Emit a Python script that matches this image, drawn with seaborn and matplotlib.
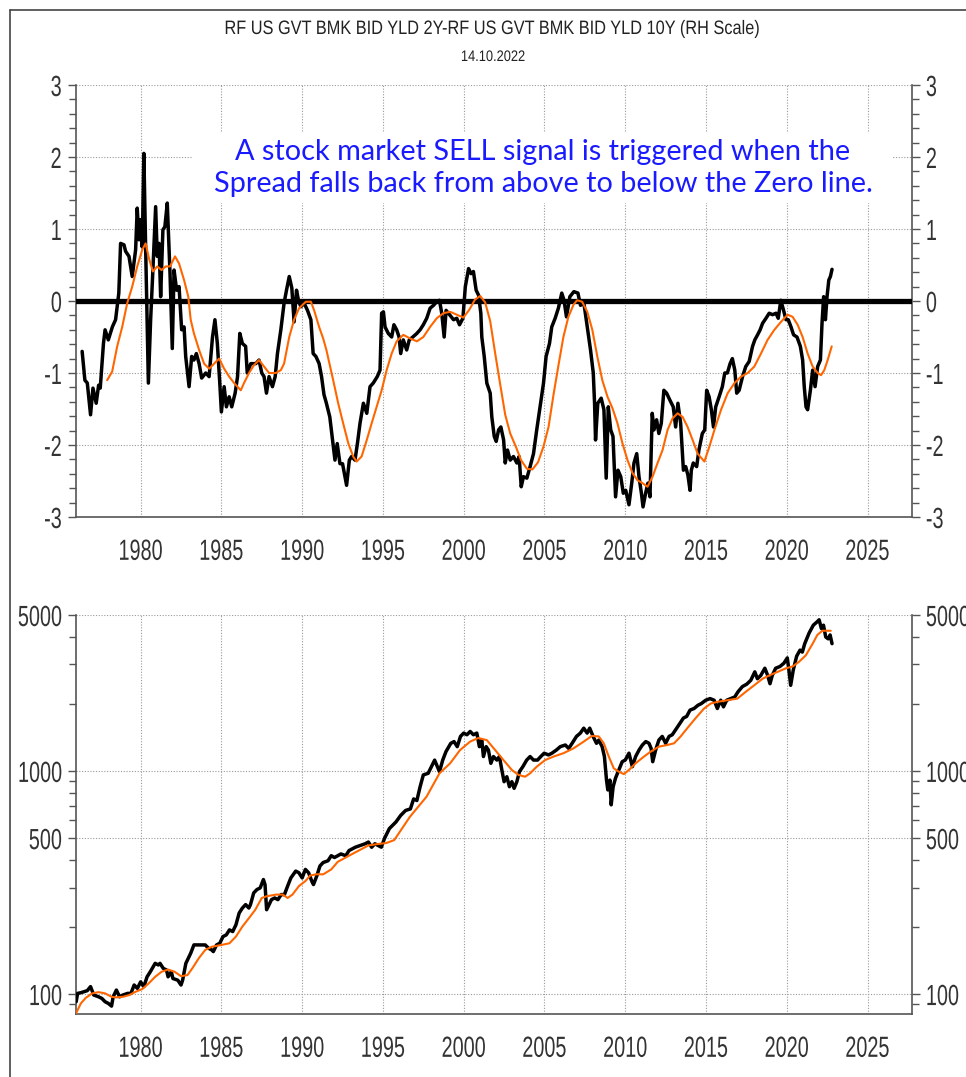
import matplotlib
matplotlib.use("Agg")
import numpy as np
import pandas as pd
import seaborn as sns
import matplotlib.pyplot as plt
from matplotlib import font_manager
from matplotlib.ticker import MultipleLocator, FixedLocator, NullFormatter, FuncFormatter
from matplotlib.patches import Rectangle
from matplotlib.lines import Line2D
from matplotlib.patheffects import AbstractPathEffect
from matplotlib.transforms import Affine2D

# ---------------------------------------------------------------- data
# 2Y minus 10Y US Treasury yield spread (percentage points)
spread_year = [
    1976.38, 1976.55, 1976.70, 1976.90, 1977.05, 1977.25, 1977.40, 1977.50, 1977.70, 1977.80,
    1978.00, 1978.25, 1978.45, 1978.65, 1978.76, 1978.97, 1979.07, 1979.28, 1979.48, 1979.69,
    1979.79, 1979.90, 1980.00, 1980.10, 1980.20, 1980.31, 1980.48, 1980.62, 1980.76, 1980.93,
    1981.03, 1981.14, 1981.24, 1981.38, 1981.50, 1981.65, 1981.82, 1981.96, 1982.07, 1982.23,
    1982.38, 1982.54, 1982.69, 1982.79, 1983.00, 1983.16, 1983.30, 1983.45, 1983.62, 1983.78,
    1984.03, 1984.24, 1984.45, 1984.60, 1984.75, 1984.90, 1985.00, 1985.17, 1985.31, 1985.48,
    1985.64, 1985.85, 1986.00, 1986.14, 1986.30, 1986.50, 1986.60, 1986.82, 1987.13, 1987.33,
    1987.50, 1987.64, 1987.79, 1987.95, 1988.16, 1988.33, 1988.47, 1988.68, 1988.88, 1989.03,
    1989.20, 1989.36, 1989.50, 1989.65, 1989.77, 1989.92, 1990.12, 1990.33, 1990.54, 1990.68,
    1990.85, 1991.05, 1991.20, 1991.35, 1991.50, 1991.71, 1991.88, 1992.03, 1992.17, 1992.34,
    1992.50, 1992.65, 1992.75, 1992.92, 1993.06, 1993.27, 1993.42, 1993.58, 1993.79, 1994.00,
    1994.20, 1994.40, 1994.65, 1994.82, 1994.92, 1995.03, 1995.13, 1995.33, 1995.54, 1995.68,
    1995.85, 1996.00, 1996.10, 1996.26, 1996.47, 1996.63, 1996.85, 1997.10, 1997.30, 1997.50,
    1997.71, 1997.92, 1998.13, 1998.33, 1998.50, 1998.64, 1998.79, 1998.91, 1999.12, 1999.37,
    1999.57, 1999.74, 1999.95, 2000.10, 2000.30, 2000.45, 2000.60, 2000.77, 2000.92, 2001.06,
    2001.12, 2001.27, 2001.43, 2001.64, 2001.74, 2001.89, 2002.01, 2002.16, 2002.30, 2002.47,
    2002.57, 2002.71, 2002.88, 2003.08, 2003.29, 2003.43, 2003.56, 2003.70, 2003.91, 2004.11,
    2004.32, 2004.52, 2004.73, 2004.94, 2005.10, 2005.31, 2005.45, 2005.66, 2005.86, 2006.07,
    2006.21, 2006.36, 2006.57, 2006.82, 2007.07, 2007.23, 2007.44, 2007.65, 2007.85, 2008.02,
    2008.10, 2008.16, 2008.30, 2008.51, 2008.68, 2008.82, 2008.95, 2009.10, 2009.24, 2009.40,
    2009.55, 2009.72, 2009.88, 2010.03, 2010.23, 2010.40, 2010.54, 2010.71, 2010.85, 2011.00,
    2011.10, 2011.26, 2011.40, 2011.53, 2011.67, 2011.78, 2011.94, 2012.08, 2012.23, 2012.39,
    2012.56, 2012.77, 2012.97, 2013.12, 2013.26, 2013.43, 2013.60, 2013.74, 2013.88, 2014.01,
    2014.09, 2014.21, 2014.42, 2014.56, 2014.77, 2014.92, 2015.04, 2015.19, 2015.33, 2015.46,
    2015.60, 2015.81, 2016.01, 2016.16, 2016.32, 2016.49, 2016.63, 2016.78, 2016.90, 2017.05,
    2017.26, 2017.46, 2017.67, 2017.88, 2018.02, 2018.19, 2018.35, 2018.50, 2018.71, 2018.91,
    2019.12, 2019.33, 2019.47, 2019.63, 2019.80, 2019.95, 2020.09, 2020.26, 2020.42, 2020.63,
    2020.84, 2020.98, 2021.08, 2021.19, 2021.29, 2021.46, 2021.60, 2021.75, 2021.91, 2022.08,
    2022.18, 2022.28, 2022.39, 2022.49, 2022.60, 2022.70, 2022.80,
]
spread = [
    -0.70, -1.10, -1.14, -1.58, -1.21, -1.42, -1.17, -1.21, -0.59, -0.40,
    -0.54, -0.36, -0.26, 0.11, 0.80, 0.78, 0.69, 0.62, 0.34, 0.71,
    1.29, 0.85, 1.13, 0.75, 2.05, 0.75, -1.14, -0.26, 0.43, 1.31,
    0.62, 0.80, 0.06, 0.99, 1.03, 1.36, 0.38, -0.66, 0.43, 0.15,
    0.20, -0.40, -0.36, -0.77, -1.19, -0.77, -0.82, -0.73, -0.87, -1.07,
    -1.00, -1.05, -0.50, -0.26, -0.59, -1.14, -1.54, -1.19, -1.47, -1.33,
    -1.47, -1.28, -1.05, -0.45, -0.59, -0.63, -1.00, -0.87, -0.87, -0.82,
    -1.00, -1.05, -1.28, -1.05, -1.19, -1.05, -0.73, -0.40, -0.03, 0.15,
    0.34, 0.18, -0.29, 0.15, 0.01, -0.08, -0.03, -0.13, -0.26, -0.73,
    -0.77, -0.87, -1.05, -1.30, -1.42, -1.61, -1.93, -2.21, -1.98, -2.26,
    -2.26, -2.44, -2.56, -2.21, -2.16, -2.21, -1.98, -1.70, -1.42, -1.56,
    -1.19, -1.14, -1.05, -0.96, -0.17, -0.15, -0.36, -0.45, -0.50, -0.33,
    -0.40, -0.50, -0.73, -0.54, -0.68, -0.54, -0.50, -0.45, -0.40, -0.33,
    -0.24, -0.10, -0.06, -0.01, 0.01, -0.17, -0.50, -0.13, -0.19, -0.26,
    -0.24, -0.33, -0.24, 0.20, 0.45, 0.38, 0.41, 0.15, 0.08, -0.17,
    -0.50, -0.77, -1.14, -1.28, -1.61, -1.88, -1.95, -1.79, -1.75, -1.93,
    -2.25, -2.07, -2.21, -2.16, -2.25, -2.16, -2.58, -2.44, -2.46, -2.30,
    -2.12, -1.79, -1.47, -1.14, -0.77, -0.59, -0.36, -0.24, -0.10, 0.11,
    0.01, -0.22, 0.06, 0.13, 0.11, -0.06, -0.03, -0.36, -0.68, -1.00,
    -1.42, -1.93, -1.42, -1.35, -1.51, -2.46, -1.47, -1.79, -1.88, -2.72,
    -2.35, -2.44, -2.67, -2.63, -2.83, -2.53, -2.25, -2.12, -2.44, -2.67,
    -2.86, -2.67, -2.53, -2.72, -1.56, -1.79, -1.65, -1.84, -1.70, -1.24,
    -1.28, -1.38, -1.47, -1.75, -1.42, -1.70, -2.35, -2.30, -2.42, -2.63,
    -2.35, -2.25, -2.30, -2.07, -1.84, -1.79, -1.24, -1.33, -1.51, -1.75,
    -1.47, -1.33, -1.19, -1.00, -1.00, -0.87, -0.80, -0.96, -1.28, -1.24,
    -1.05, -0.91, -0.84, -0.63, -0.54, -0.47, -0.40, -0.31, -0.24, -0.17,
    -0.19, -0.17, -0.24, 0.01, -0.13, -0.26, -0.26, -0.36, -0.47, -0.50,
    -0.63, -0.82, -1.19, -1.47, -1.51, -1.24, -0.96, -1.19, -0.91, -0.82,
    -0.31, 0.06, -0.26, 0.06, 0.29, 0.34, 0.44,
]

# moving average of the spread
spread_ma_year = [
    1977.93, 1978.24, 1978.55, 1978.86, 1979.17, 1979.48, 1979.79, 1980.10, 1980.31, 1980.52,
    1980.76, 1981.03, 1981.30, 1981.55, 1981.82, 1982.13, 1982.38, 1982.69, 1982.95, 1983.10,
    1983.30, 1983.62, 1983.93, 1984.24, 1984.55, 1984.86, 1985.17, 1985.48, 1985.79, 1986.20,
    1986.40, 1986.71, 1987.02, 1987.33, 1987.64, 1987.95, 1988.37, 1988.68, 1988.88, 1989.20,
    1989.50, 1989.81, 1990.23, 1990.54, 1990.74, 1991.05, 1991.30, 1991.50, 1991.92, 1992.23,
    1992.54, 1992.86, 1993.16, 1993.37, 1993.68, 1994.00, 1994.30, 1994.61, 1994.92, 1995.23,
    1995.54, 1995.85, 1996.26, 1996.68, 1997.10, 1997.50, 1997.92, 1998.33, 1998.74, 1999.16,
    1999.57, 1999.98, 2000.35, 2000.70, 2001.02, 2001.33, 2001.64, 2001.95, 2002.26, 2002.57,
    2002.88, 2003.24, 2003.55, 2003.91, 2004.25, 2004.60, 2004.94, 2005.25, 2005.56, 2005.86,
    2006.17, 2006.48, 2006.80, 2007.02, 2007.33, 2007.65, 2007.96, 2008.27, 2008.58, 2008.90,
    2009.21, 2009.52, 2009.83, 2010.14, 2010.45, 2010.76, 2011.07, 2011.38, 2011.69, 2012.00,
    2012.31, 2012.62, 2012.93, 2013.24, 2013.55, 2013.86, 2014.17, 2014.48, 2014.90, 2015.21,
    2015.52, 2015.93, 2016.34, 2016.76, 2017.17, 2017.58, 2017.99, 2018.40, 2018.81, 2019.23,
    2019.64, 2020.05, 2020.36, 2020.67, 2020.98, 2021.29, 2021.60, 2021.91, 2022.12, 2022.32,
    2022.53, 2022.78,
]
spread_ma = [
    -1.10, -0.98, -0.63, -0.36, -0.03, 0.20, 0.48, 0.71, 0.80, 0.59,
    0.41, 0.48, 0.43, 0.48, 0.48, 0.62, 0.52, 0.29, 0.06, -0.26,
    -0.45, -0.68, -0.87, -0.94, -0.87, -0.80, -0.94, -1.05, -1.14, -1.24,
    -1.14, -1.00, -0.89, -0.82, -0.91, -1.00, -1.00, -0.96, -0.87, -0.50,
    -0.26, -0.10, -0.01, -0.01, -0.13, -0.36, -0.52, -0.68, -1.10, -1.42,
    -1.70, -1.98, -2.16, -2.23, -2.16, -1.93, -1.70, -1.47, -1.24, -0.96,
    -0.73, -0.56, -0.47, -0.52, -0.56, -0.50, -0.36, -0.24, -0.17, -0.15,
    -0.19, -0.23, -0.12, 0.02, 0.07, -0.02, -0.28, -0.73, -1.16, -1.58,
    -1.84, -2.03, -2.21, -2.33, -2.34, -2.24, -2.02, -1.75, -1.30, -0.90,
    -0.50, -0.22, -0.05, 0.01, -0.01, -0.15, -0.40, -0.77, -1.10, -1.33,
    -1.49, -1.70, -1.98, -2.21, -2.39, -2.49, -2.53, -2.58, -2.44, -2.25,
    -2.07, -1.79, -1.63, -1.56, -1.61, -1.75, -1.93, -2.12, -2.23, -2.02,
    -1.79, -1.51, -1.28, -1.14, -1.05, -1.00, -0.91, -0.73, -0.54, -0.40,
    -0.29, -0.19, -0.22, -0.33, -0.50, -0.73, -0.91, -1.00, -1.03, -0.96,
    -0.82, -0.63,
]

# S&P 500 index level
spx_year = [
    1976.01, 1976.10, 1976.30, 1976.50, 1976.70, 1976.90, 1977.10, 1977.40, 1977.60, 1977.80,
    1978.00, 1978.20, 1978.30, 1978.50, 1978.70, 1978.90, 1979.20, 1979.40, 1979.60, 1979.80,
    1980.00, 1980.20, 1980.40, 1980.60, 1980.90, 1981.10, 1981.20, 1981.40, 1981.60, 1981.70,
    1981.90, 1982.00, 1982.30, 1982.50, 1982.60, 1982.80, 1982.90, 1983.10, 1983.30, 1983.60,
    1983.80, 1984.00, 1984.20, 1984.40, 1984.50, 1984.70, 1984.90, 1985.10, 1985.30, 1985.50,
    1985.70, 1985.90, 1986.10, 1986.30, 1986.50, 1986.70, 1986.80, 1987.00, 1987.20, 1987.40,
    1987.60, 1987.70, 1987.80, 1987.90, 1988.10, 1988.30, 1988.50, 1988.70, 1988.90, 1989.10,
    1989.30, 1989.60, 1989.80, 1990.00, 1990.20, 1990.40, 1990.60, 1990.70, 1990.90, 1991.10,
    1991.30, 1991.60, 1991.80, 1992.00, 1992.40, 1992.70, 1992.90, 1993.30, 1993.60, 1993.90,
    1994.10, 1994.30, 1994.50, 1994.70, 1994.90, 1995.10, 1995.40, 1995.80, 1996.10, 1996.40,
    1996.70, 1996.90, 1997.10, 1997.30, 1997.50, 1997.80, 1998.00, 1998.20, 1998.50, 1998.70,
    1998.90, 1999.20, 1999.40, 1999.60, 1999.80, 2000.00, 2000.20, 2000.40, 2000.60, 2000.81,
    2000.97, 2001.12, 2001.22, 2001.39, 2001.53, 2001.68, 2001.84, 2002.05, 2002.21, 2002.36,
    2002.50, 2002.67, 2002.83, 2002.98, 2003.12, 2003.29, 2003.45, 2003.66, 2003.90, 2004.11,
    2004.32, 2004.57, 2004.77, 2004.98, 2005.25, 2005.46, 2005.73, 2005.98, 2006.29, 2006.50,
    2006.71, 2006.98, 2007.22, 2007.43, 2007.64, 2007.80, 2008.01, 2008.22, 2008.36, 2008.57,
    2008.71, 2008.84, 2008.92, 2009.05, 2009.13, 2009.25, 2009.40, 2009.60, 2009.81, 2010.00,
    2010.23, 2010.44, 2010.64, 2010.85, 2011.06, 2011.27, 2011.47, 2011.60, 2011.70, 2011.88,
    2012.08, 2012.29, 2012.50, 2012.71, 2012.91, 2013.12, 2013.39, 2013.60, 2013.80, 2014.01,
    2014.26, 2014.50, 2014.71, 2014.98, 2015.25, 2015.50, 2015.70, 2015.91, 2016.08, 2016.28,
    2016.53, 2016.78, 2016.98, 2017.25, 2017.52, 2017.77, 2018.02, 2018.18, 2018.39, 2018.64,
    2018.80, 2018.96, 2019.10, 2019.31, 2019.58, 2019.82, 2020.03, 2020.13, 2020.24, 2020.40,
    2020.61, 2020.82, 2020.96, 2021.11, 2021.38, 2021.64, 2021.89, 2022.00, 2022.14, 2022.27,
    2022.41, 2022.56, 2022.68, 2022.80,
]
spx = [
    92.4, 100.7, 101.4, 102.5, 103.6, 108.0, 99.0, 97.2, 95.6, 92.4,
    90.8, 88.3, 97.2, 104.2, 97.2, 99.0, 100.7, 100.7, 109.8, 106.0,
    113.4, 108.0, 119.5, 125.9, 137.3, 135.0, 137.3, 130.4, 128.2, 119.5,
    125.9, 117.4, 115.4, 109.8, 115.4, 137.3, 142.2, 152.4, 166.1, 166.1,
    166.1, 166.0, 160.5, 157.7, 155.0, 166.0, 168.9, 181.0, 184.1, 193.9,
    190.6, 204.3, 230.7, 243.0, 251.7, 243.0, 251.7, 284.0, 294.0, 299.0,
    326.0, 309.6, 238.8, 247.3, 265.0, 269.6, 265.0, 279.2, 279.0, 304.8,
    331.6, 355.8, 349.5, 331.6, 362.0, 349.5, 320.0, 309.6, 337.6, 375.0,
    388.6, 395.8, 416.9, 409.3, 424.6, 416.9, 439.7, 455.4, 463.5, 471.7,
    480.1, 455.0, 471.7, 463.5, 455.4, 499.0, 552.0, 590.0, 632.0, 665.0,
    676.0, 749.0, 737.0, 849.0, 960.0, 976.0, 1045.0, 1118.0, 993.0, 1118.0,
    1220.0, 1330.0, 1354.0, 1285.0, 1428.0, 1478.0, 1453.0, 1503.0, 1453.0, 1478.0,
    1285.0, 1375.0, 1160.0, 1285.0, 1240.0, 1082.0, 1160.0, 1119.0, 1160.0, 1010.0,
    895.0, 942.0, 850.0, 895.0, 836.0, 895.0, 993.0, 1045.0, 1119.0, 1160.0,
    1119.0, 1119.0, 1160.0, 1201.0, 1180.0, 1201.0, 1240.0, 1285.0, 1307.0, 1262.0,
    1330.0, 1428.0, 1478.0, 1555.0, 1478.0, 1555.0, 1428.0, 1330.0, 1375.0, 1285.0,
    1160.0, 910.0, 822.0, 910.0, 705.0, 850.0, 930.0, 1010.0, 1100.0, 1119.0,
    1201.0, 1045.0, 1160.0, 1240.0, 1307.0, 1354.0, 1330.0, 1262.0, 1100.0, 1240.0,
    1375.0, 1428.0, 1330.0, 1428.0, 1453.0, 1530.0, 1637.0, 1726.0, 1755.0, 1874.0,
    1905.0, 1970.0, 2005.0, 2075.0, 2110.0, 2075.0, 1905.0, 2075.0, 1938.0, 2075.0,
    2110.0, 2146.0, 2264.0, 2388.0, 2449.0, 2548.0, 2780.0, 2590.0, 2680.0, 2886.0,
    2700.0, 2460.0, 2680.0, 2886.0, 2940.0, 3040.0, 3211.0, 2835.0, 2420.0, 2835.0,
    3270.0, 3480.0, 3410.0, 3720.0, 4150.0, 4500.0, 4670.0, 4760.0, 4350.0, 4500.0,
    3985.0, 3910.0, 4070.0, 3720.0,
]

# moving average of the S&P 500
spx_ma_year = [
    1976.00, 1976.30, 1976.60, 1977.00, 1977.40, 1977.80, 1978.20, 1978.50, 1978.90, 1979.30,
    1979.70, 1980.10, 1980.50, 1980.90, 1981.30, 1981.70, 1982.10, 1982.50, 1982.90, 1983.20,
    1983.60, 1984.00, 1984.40, 1985.00, 1985.50, 1985.90, 1986.30, 1986.70, 1987.10, 1987.50,
    1987.80, 1988.40, 1988.80, 1989.10, 1989.40, 1989.80, 1990.20, 1990.50, 1990.90, 1991.30,
    1991.80, 1992.20, 1992.90, 1993.50, 1994.10, 1994.80, 1995.20, 1995.70, 1996.67, 1997.70,
    1998.50, 1999.16, 1999.77, 2000.40, 2000.90, 2001.43, 2001.95, 2002.46, 2002.98, 2003.39,
    2003.80, 2004.11, 2004.52, 2005.04, 2005.56, 2006.17, 2006.79, 2007.43, 2007.93, 2008.36,
    2008.67, 2008.98, 2009.29, 2009.60, 2009.91, 2010.23, 2010.64, 2011.16, 2011.57, 2012.08,
    2012.60, 2013.02, 2013.43, 2013.84, 2014.36, 2014.88, 2015.29, 2015.70, 2016.32, 2016.94,
    2017.46, 2017.98, 2018.50, 2018.91, 2019.43, 2019.95, 2020.36, 2020.77, 2021.18, 2021.60,
    2021.89, 2022.20, 2022.72,
]
spx_ma = [
    81.9, 90.8, 96.1, 100.7, 102.0, 100.7, 97.2, 96.6, 97.2, 99.0,
    102.5, 105.3, 111.6, 119.5, 125.9, 128.8, 125.9, 120.3, 121.6, 130.4,
    144.7, 157.7, 162.9, 166.0, 168.9, 181.0, 200.7, 218.7, 238.8, 269.6,
    274.4, 279.2, 279.2, 269.6, 279.2, 304.8, 321.0, 340.0, 344.4, 344.0,
    362.0, 391.3, 417.0, 439.7, 463.5, 471.7, 475.0, 490.0, 623.0, 767.0,
    976.0, 1082.0, 1240.0, 1354.0, 1405.0, 1375.0, 1240.0, 1119.0, 1010.0, 960.0,
    942.0, 976.0, 1045.0, 1119.0, 1160.0, 1201.0, 1262.0, 1354.0, 1435.0, 1428.0,
    1330.0, 1160.0, 1027.0, 993.0, 968.0, 1010.0, 1082.0, 1160.0, 1220.0, 1285.0,
    1307.0, 1330.0, 1428.0, 1555.0, 1726.0, 1905.0, 2005.0, 2040.0, 2075.0, 2110.0,
    2264.0, 2420.0, 2590.0, 2680.0, 2780.0, 2886.0, 2940.0, 3090.0, 3300.0, 3720.0,
    4070.0, 4250.0, 4250.0,
]

spread_ticks = [3, 2, 1, 0, -1, -2, -3]
spx_ticks = [100, 500, 1000, 5000]
spx_minor_ticks = [90, 200, 300, 400, 600, 700, 800, 900, 2000, 3000, 4000]

title_text = "RF US GVT BMK BID YLD 2Y-RF US GVT BMK BID YLD 10Y (RH Scale)"
date_text = "14.10.2022"
note_lines = ["A stock market SELL signal is triggered when the",
              "Spread falls back from above to below the Zero line."]

# ---------------------------------------------------------------- style
sns.set_style("white")


def first_font(candidates, fallback):
    for fam in candidates:
        try:
            font_manager.findfont(font_manager.FontProperties(family=fam),
                                  fallback_to_default=False)
            return fam
        except Exception:
            continue
    return fallback


BASE_FONT = first_font(["Liberation Sans", "Arial"], "DejaVu Sans")
NOTE_FONT = first_font(["Lato", "Open Sans"], "DejaVu Sans")
plt.rcParams["font.family"] = [BASE_FONT, "DejaVu Sans"]
plt.rcParams["axes.unicode_minus"] = False


class Condense(AbstractPathEffect):
    """Narrow the glyph outlines horizontally around a chosen anchor."""

    def __init__(self, factor, anchor="center"):
        super().__init__()
        self.factor = factor
        self.anchor = anchor

    def draw_path(self, renderer, gc, tpath, affine, rgbFace=None):
        verts = tpath.vertices
        if verts is None or len(verts) == 0:
            renderer.draw_path(gc, tpath, affine, rgbFace)
            return
        x0, x1 = verts[:, 0].min(), verts[:, 0].max()
        cx = {"left": x0, "right": x1}.get(self.anchor, 0.5 * (x0 + x1))
        narrow = Affine2D().translate(-cx, 0).scale(self.factor, 1.0).translate(cx, 0)
        renderer.draw_path(gc, tpath, narrow + affine, rgbFace)


BLACK = "#000000"
ORANGE = "#FF6600"
SPINE = "#555555"
LABEL = "#333333"
GRID = "#9a9a9a"
TICK_CONDENSE = 0.68

fig = plt.figure(figsize=(9.66, 10.77), dpi=100)
W, H = 966.0, 1077.0


def px_axes(left, top, right, bottom):
    return fig.add_axes([left / W, 1 - bottom / H, (right - left) / W, (bottom - top) / H])


ax_top = px_axes(76, 85, 912, 517)
ax_bot = px_axes(76, 615, 912, 1014)

df_spread = pd.DataFrame({"year": spread_year, "value": spread})
df_spread_ma = pd.DataFrame({"year": spread_ma_year, "value": spread_ma})
df_spx = pd.DataFrame({"year": spx_year, "value": spx})
df_spx_ma = pd.DataFrame({"year": spx_ma_year, "value": spx_ma})


def style_axes(ax):
    ax.set_xlim(1976.0, 2027.75)
    ax.xaxis.set_major_locator(MultipleLocator(5))
    ax.xaxis.set_minor_locator(MultipleLocator(1))
    ax.xaxis.set_major_formatter(FuncFormatter(lambda v, p: f"{int(round(v))}"))
    ax.grid(True, which="major", axis="both", linestyle=(0, (1, 1.5)), color=GRID, linewidth=0.8)
    ax.set_axisbelow(True)
    ax.spines["top"].set_visible(False)
    for side in ("left", "right", "bottom"):
        ax.spines[side].set_visible(True)
        ax.spines[side].set_color(SPINE)
        ax.spines[side].set_linewidth(1.2)
    ax.tick_params(axis="both", which="both", direction="out", color=SPINE,
                   labelcolor=LABEL, labelsize=21, width=1.0)
    ax.tick_params(axis="y", which="both", left=True, right=True,
                   labelleft=True, labelright=True, pad=4)
    ax.tick_params(axis="y", which="major", length=6)
    ax.tick_params(axis="y", which="minor", length=5)
    ax.tick_params(axis="x", which="major", length=8, pad=7)
    ax.tick_params(axis="x", which="minor", length=5)
    ax.set_xlabel("")
    ax.set_ylabel("")


def condense_tick_labels(ax):
    for tick in ax.xaxis.get_major_ticks():
        tick.label1.set_path_effects([Condense(TICK_CONDENSE, "center")])
    for tick in ax.yaxis.get_major_ticks():
        tick.label1.set_path_effects([Condense(TICK_CONDENSE, "right")])
        tick.label2.set_path_effects([Condense(TICK_CONDENSE, "left")])


# ---------------------------------------------------------------- spread panel
sns.lineplot(data=df_spread, x="year", y="value", ax=ax_top, color=BLACK,
             linewidth=2.5, estimator=None, sort=False, zorder=4)
sns.lineplot(data=df_spread_ma, x="year", y="value", ax=ax_top, color=ORANGE,
             linewidth=1.5, estimator=None, sort=False, zorder=5)
ax_top.axhline(0, color=BLACK, linewidth=3.8, zorder=3)
style_axes(ax_top)
ax_top.set_ylim(-3, 3)
ax_top.yaxis.set_major_locator(FixedLocator(spread_ticks))
ax_top.yaxis.set_minor_locator(MultipleLocator(0.2))
ax_top.yaxis.set_major_formatter(FuncFormatter(lambda v, p: f"{int(round(v))}"))

# white panel behind the note so the grid stops around it
ax_top.add_patch(Rectangle((0.1388, 0.7269), 0.8385, 0.162, transform=ax_top.transAxes,
                           facecolor="white", edgecolor="none", zorder=1.8))
for line, yfrac in zip(note_lines, (0.8264, 0.7530)):
    ax_top.text(0.5586, yfrac, line, transform=ax_top.transAxes, ha="center",
                va="baseline", color="#1a1aff", fontsize=20.8,
                family=[NOTE_FONT, "DejaVu Sans"], zorder=6)

# ---------------------------------------------------------------- S&P panel
sns.lineplot(data=df_spx, x="year", y="value", ax=ax_bot, color=BLACK,
             linewidth=2.5, estimator=None, sort=False, zorder=4)
sns.lineplot(data=df_spx_ma, x="year", y="value", ax=ax_bot, color=ORANGE,
             linewidth=1.5, estimator=None, sort=False, zorder=5)
ax_bot.set_yscale("log")
style_axes(ax_bot)
ax_bot.set_ylim(81.4, 5000)
ax_bot.yaxis.set_major_locator(FixedLocator(spx_ticks))
ax_bot.yaxis.set_minor_locator(FixedLocator(spx_minor_ticks))
ax_bot.yaxis.set_major_formatter(FuncFormatter(lambda v, p: f"{int(round(v))}"))
ax_bot.yaxis.set_minor_formatter(NullFormatter())

# ---------------------------------------------------------------- titles and frame
fig.text(493 / W, 1 - 34 / H, title_text, ha="center", va="baseline",
         fontsize=14, color="#222222", path_effects=[Condense(0.84, "center")])
fig.text(493 / W, 1 - 61 / H, date_text, ha="center", va="baseline",
         fontsize=11, color="#222222", path_effects=[Condense(0.84, "center")])
fig.add_artist(Line2D([10 / W, 10 / W], [0, 1 - 10 / H], transform=fig.transFigure,
                      color="#444444", linewidth=1.2))
fig.add_artist(Line2D([10 / W, 1], [1 - 10 / H, 1 - 10 / H], transform=fig.transFigure,
                      color="#444444", linewidth=1.2))

fig.canvas.draw()
condense_tick_labels(ax_top)
condense_tick_labels(ax_bot)

fig.savefig("out.png", dpi=100, facecolor="white")
